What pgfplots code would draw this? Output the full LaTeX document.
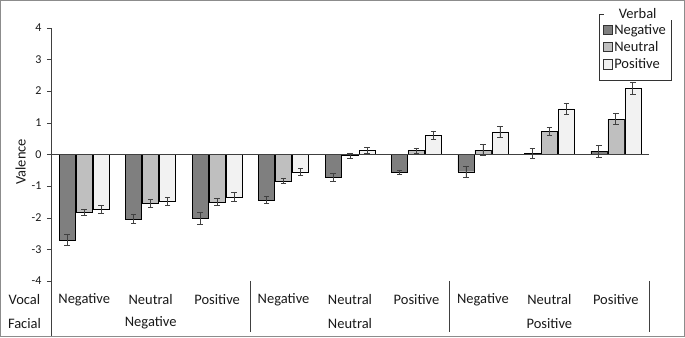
\documentclass[border=0pt]{standalone}
\usepackage{pgfplots}
\pgfplotsset{compat=1.18}
\usepackage{pgfplotstable}
\usepackage{fontspec}
\setmainfont{Carlito}
\definecolor{cdark}{HTML}{7F7F7F}
\definecolor{cmid}{HTML}{BFBFBF}
\definecolor{clight}{HTML}{F2F2F2}
\pgfplotstableread{
x y e
0 -2.71 0.17
1 -2.05 0.14
2 -2.02 0.19
3 -1.44 0.10
4 -0.73 0.12
5 -0.58 0.06
6 -0.55 0.18
7 0.02 0.16
8 0.10 0.19
}\dneg
\pgfplotstableread{
x y e
0 -1.83 0.10
1 -1.54 0.12
2 -1.50 0.12
3 -0.84 0.08
4 -0.04 0.08
5 0.12 0.08
6 0.13 0.17
7 0.72 0.12
8 1.11 0.17
}\dneu
\pgfplotstableread{
x y e
0 -1.74 0.14
1 -1.49 0.12
2 -1.35 0.14
3 -0.55 0.10
4 0.12 0.10
5 0.61 0.13
6 0.71 0.18
7 1.44 0.17
8 2.08 0.20
}\dpos
\tikzset{lab/.style={font=\fontsize{14.5}{16}\selectfont, text=black!90}}
\begin{document}
\begin{tikzpicture}
\begin{axis}[
  width=598pt, height=253.3pt, scale only axis,
  xmin=-0.5, xmax=8.5, ymin=-4, ymax=4,
  ytick={-4,-3,-2,-1,0,1,2,3,4},
  axis x line=none, axis y line*=left,
  axis line style={-, black!75},
  tick align=outside, major tick length=4pt,
  tick style={black!75},
  clip=false,
  ybar=1pt, bar width=16pt,
  /pgf/number format/assume math mode=true,
  yticklabel style={font=\fontsize{12}{14}\selectfont, text=black!90, xshift=-2pt},
  ylabel={Valence},
  every axis y label/.style={at={(axis description cs:-0.0507,0.47)}, rotate=90, anchor=center, font=\fontsize{14.5}{16}\selectfont, text=black!90},
  legend style={at={(axis cs:8.84,4.433)}, anchor=north east, draw=black!80, font=\fontsize{14.5}{16}\selectfont, text=black!90, inner xsep=4pt, inner ysep=8pt, cells={anchor=west}, row sep=1.5pt, nodes={inner xsep=1.5pt}},
  legend image code/.code={\draw[#1, draw=black!80] (0pt,-4.7pt) rectangle (9.4pt,4.7pt);},
  error bars/error bar style={black!75, line width=0.7pt},
  error bars/error mark options={rotate=90, mark size=2.8pt, black!75, line width=0.7pt},
]
\addplot[fill=cdark, draw=black, error bars/.cd, y dir=both, y explicit] table[x=x, y=y, y error=e]{\dneg};
\addplot[fill=cmid, draw=black, error bars/.cd, y dir=both, y explicit] table[x=x, y=y, y error=e]{\dneu};
\addplot[fill=clight, draw=black, error bars/.cd, y dir=both, y explicit] table[x=x, y=y, y error=e]{\dpos};
\legend{Negative, Neutral, Positive}
\draw[black!75] (axis cs:-0.5,0) -- (axis cs:8.5,0);
\draw[black!75] (axis cs:-0.5,-4) -- (axis cs:-0.5,-5.755);
\draw[black!75] (axis cs:2.5,-4) -- (axis cs:2.5,-5.61);
\draw[black!75] (axis cs:5.5,-4) -- (axis cs:5.5,-5.61);
\draw[black!75] (axis cs:8.5,-4) -- (axis cs:8.5,-5.61);
\draw[black!45, line width=1pt] (axis cs:-1.260,4.858) rectangle (axis cs:9.034,-5.755);
\node[lab] at (axis cs:0,-4.60) {Negative};
\node[lab] at (axis cs:1,-4.60) {Neutral};
\node[lab] at (axis cs:2,-4.60) {Positive};
\node[lab] at (axis cs:3,-4.60) {Negative};
\node[lab] at (axis cs:4,-4.60) {Neutral};
\node[lab] at (axis cs:5,-4.60) {Positive};
\node[lab] at (axis cs:6,-4.60) {Negative};
\node[lab] at (axis cs:7,-4.60) {Neutral};
\node[lab] at (axis cs:8,-4.60) {Positive};
\node[lab] at (axis cs:1,-5.33) {Negative};
\node[lab] at (axis cs:4,-5.33) {Neutral};
\node[lab] at (axis cs:7,-5.33) {Positive};
\node[lab] at (axis cs:-0.899,-4.60) {Vocal};
\node[lab] at (axis cs:-0.899,-5.33) {Facial};
\coordinate (vt) at (axis cs:8.33,4.433);
\end{axis}
\node[lab, fill=white, inner xsep=0pt, inner ysep=1pt, minimum width=68pt] at (vt) {Verbal};
\end{tikzpicture}
\end{document}
